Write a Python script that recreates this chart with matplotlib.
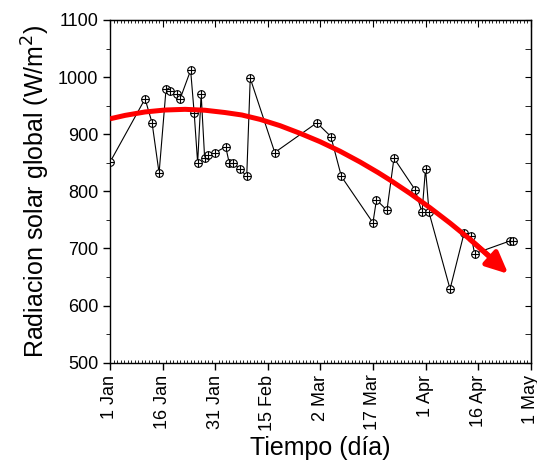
import matplotlib.pyplot as plt
from matplotlib.ticker import MultipleLocator

plt.rcParams['font.family'] = ['Liberation Sans', 'DejaVu Sans']

# days after 1 Jan
day = [0, 10, 12, 14, 16, 17, 19, 20, 23, 24, 25, 26, 27, 28, 30, 33, 34, 35, 37, 39,
       40, 47, 59, 63, 66, 75, 76, 79, 81, 87, 89, 90, 91, 97, 101, 103, 104, 114, 115]
rad = [851, 962, 920, 832, 980, 976, 970, 962, 1012, 938, 850, 970, 858, 864, 868, 878,
       850, 850, 840, 826, 998, 868, 920, 896, 826, 745, 785, 767, 858, 803, 763, 840,
       763, 629, 727, 722, 691, 713, 713]

# trend curve
trend_day = [0, 4.3, 10, 15.7, 21.4, 27.1, 32.8, 37.6, 42.8, 48.5, 54.2, 59.9, 65.6,
             71.3, 76.5, 79.9, 85.6, 91.3, 97, 102.7, 108.4, 113.6]
trend_val = [927, 933, 939, 942.4, 943.6, 942, 938, 933.7, 926, 915, 901.6, 887, 870.3,
             851.5, 832.8, 819.7, 796.3, 771.2, 744.4, 715.9, 685.7, 655.5]

tick_pos = [0, 15, 30, 45, 60, 75, 90, 105, 120]
tick_lab = ['1 Jan', '16 Jan', '31 Jan', '15 Feb', '2 Mar', '17 Mar', '1 Apr', '16 Apr', '1 May']

fig = plt.figure(figsize=(5.37, 4.63), dpi=100)
ax = fig.add_axes([110/537, 1-362.7/463, (530.7-110)/537, (362.7-20)/463])

ax.plot(day, rad, color='black', lw=0.8, zorder=2)
ax.plot(day, rad, linestyle='None', marker='o', ms=5.5, mfc='white', mec='black', mew=0.8, zorder=3)
ax.plot(day, rad, linestyle='None', marker='+', ms=5.5, color='black', mew=0.8, zorder=4)

ax.plot(trend_day[:-1], trend_val[:-1], color='red', lw=3.6, solid_capstyle='butt',
        solid_joinstyle='round', zorder=5)
ax.annotate('', xy=(trend_day[-1], trend_val[-1]), xytext=(trend_day[-3], trend_val[-3]),
            arrowprops=dict(arrowstyle='-|>,head_length=1.3,head_width=0.6', color='red', lw=3.6,
                            shrinkA=0, shrinkB=0), zorder=5)

ax.set_xlim(0, 120)
ax.set_ylim(500, 1100)
ax.set_xticks(tick_pos)
ax.set_xticklabels(tick_lab, rotation=90, fontsize=13)
ax.xaxis.set_minor_locator(MultipleLocator(1))
ax.yaxis.set_major_locator(MultipleLocator(100))
ax.yaxis.set_minor_locator(MultipleLocator(50))
ax.tick_params(axis='y', labelsize=13)
ax.tick_params(which='major', length=5, width=1)
ax.tick_params(axis='x', which='minor', direction='in', length=2, width=0.6)
ax.tick_params(axis='x', which='major', direction='out')
ax.tick_params(axis='y', which='both', direction='out')
ax.tick_params(axis='y', which='minor', length=3)
for s in ax.spines.values():
    s.set_linewidth(1.0)

sec = ax.secondary_yaxis('right')
sec.set_yticks([500, 600, 700, 800, 900, 1000, 1100])
sec.yaxis.set_minor_locator(MultipleLocator(50))
sec.tick_params(which='both', direction='in', labelright=False, length=4)

top = ax.secondary_xaxis('top')
top.set_xticks(tick_pos)
top.xaxis.set_minor_locator(MultipleLocator(1))
top.tick_params(which='major', direction='in', length=5, labeltop=False)
top.tick_params(which='minor', direction='in', length=2, width=0.6)

ax.set_xlabel('Tiempo (día)', fontsize=18)
ax.set_ylabel('Radiacion solar global (W/m$^2$)', fontsize=18)

fig.savefig('out.png', dpi=100)
